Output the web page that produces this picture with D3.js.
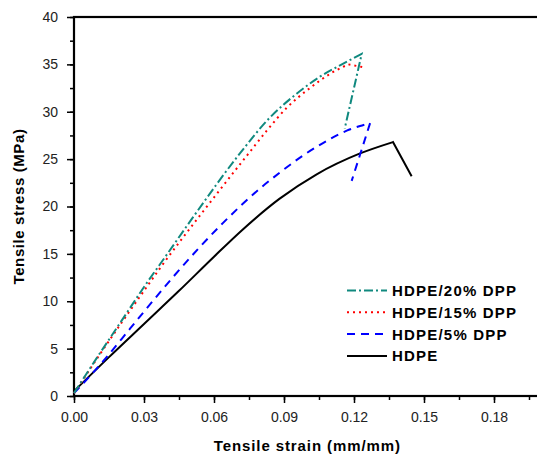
<!DOCTYPE html>
<html>
<head>
<meta charset="utf-8">
<script src="https://cdn.jsdelivr.net/npm/d3@7"></script>
<style>
  body { margin: 0; background: #fff; }
  text { font-family: Arial, "Liberation Sans", sans-serif; }
</style>
</head>
<body>
<svg id="chart" width="537" height="457"></svg>
<script>
const left_margin = 74;
const top_y = 17;
const bottom_y = 396;
const x_per_003 = 70;

const strain20 = [0, 0.01, 0.02, 0.03, 0.04, 0.0511, 0.0711, 0.084, 0.0954, 0.1054, 0.114, 0.1233, 0.116];
const stress20 = [0.3, 4.1, 7.8, 11.5, 15.0, 18.9, 25.6, 29.4, 31.9, 33.7, 34.9, 36.1, 28.2];

const strain15 = [0, 0.01, 0.02, 0.03, 0.0369, 0.0554, 0.0758, 0.0826, 0.0911, 0.1011, 0.1111, 0.1176, 0.124];
const stress15 = [0.3, 4.0, 7.6, 11.1, 13.5, 19.5, 25.9, 28.0, 30.4, 32.5, 34.2, 35.0, 34.7];

const strain5 = [0, 0.0126, 0.024, 0.03, 0.0419, 0.064, 0.0797, 0.0883, 0.0983, 0.1067, 0.1169, 0.1226, 0.1269, 0.119];
const stress5 = [0.3, 3.7, 7.1, 8.9, 12.4, 18.3, 21.9, 23.6, 25.4, 26.7, 28.0, 28.5, 28.8, 22.7];

const strain0 = [0, 0.015, 0.03, 0.045, 0.06, 0.072, 0.088, 0.104, 0.1226, 0.1367, 0.1447];
const stress0 = [0.5, 4.1, 7.6, 11.1, 14.7, 17.5, 20.8, 23.4, 25.6, 26.8, 23.2];

const xTicks = [0, 0.03, 0.06, 0.09, 0.12, 0.15, 0.18];
const yTicks = [0, 5, 10, 15, 20, 25, 30, 35, 40];

const seriesNames = ["HDPE/20% DPP", "HDPE/15% DPP", "HDPE/5% DPP", "HDPE"];
const seriesColors = ["#10897f", "#ff0000", "#0000ff", "#000000"];
const seriesDash = ["9,3,2,3", "2,4", "8,6", null];

var svg = d3.select("#chart");

var x = d3.scaleLinear()
    .domain([0, 0.2])
    .range([left_margin, left_margin + 0.2 / 0.03 * x_per_003]);
var y = d3.scaleLinear()
    .domain([0, 40])
    .range([bottom_y, top_y]);

/* minor + major ticks, drawn as separate axes */
var xMinor = d3.range(0, 0.2, 0.015);
var yMinor = d3.range(0, 40.1, 2.5);

svg.append("g")
    .attr("transform", "translate(0," + bottom_y + ")")
    .call(d3.axisBottom(x).tickValues(xMinor).tickSize(4).tickFormat(""))
    .call(g => g.select(".domain").remove());
svg.append("g")
    .attr("transform", "translate(0," + bottom_y + ")")
    .call(d3.axisBottom(x).tickValues(xTicks).tickSize(7).tickPadding(9).tickFormat(d3.format(".2f")))
    .call(g => g.select(".domain").remove())
    .selectAll("text").attr("font-size", 14).attr("fill", "#222");

svg.append("g")
    .attr("transform", "translate(" + left_margin + ",0)")
    .call(d3.axisLeft(y).tickValues(yMinor).tickSize(4).tickFormat(""))
    .call(g => g.select(".domain").remove());
svg.append("g")
    .attr("transform", "translate(" + left_margin + ",0)")
    .call(d3.axisLeft(y).tickValues(yTicks).tickSize(7).tickPadding(9))
    .call(g => g.select(".domain").remove())
    .selectAll("text").attr("font-size", 14).attr("fill", "#222");

svg.selectAll(".tick line").attr("stroke-width", 1.5);

// frame
svg.append("rect")
    .attr("x", x(0))
    .attr("y", y(40))
    .attr("width", x(0.2) - x(0))
    .attr("height", y(0) - y(40))
    .attr("fill", "none")
    .attr("stroke", "#000")
    .attr("stroke-width", 2.2);

// smooth rising part, straight drop after the break point
var smooth = d3.line()
    .x(d => x(d[0]))
    .y(d => y(d[1]))
    .curve(d3.curveMonotoneX);

function curvePath(pts) {
    var rise = pts.slice(0, -1);
    var last = pts[pts.length - 1];
    return smooth(rise) + "L" + x(last[0]) + "," + y(last[1]);
}

var allSeries = [
    d3.zip(strain20, stress20),
    d3.zip(strain15, stress15),
    d3.zip(strain5, stress5),
    d3.zip(strain0, stress0)
];

// draw HDPE first so the others sit on top
for (var i = allSeries.length - 1; i >= 0; i--) {
    svg.append("path")
        .attr("d", curvePath(allSeries[i]))
        .attr("fill", "none")
        .attr("stroke", seriesColors[i])
        .attr("stroke-width", 2)
        .attr("stroke-dasharray", seriesDash[i]);
}

// legend
var legend = svg.append("g");
seriesNames.forEach((name, i) => {
    var ly = 290.5 + i * 21.8;
    legend.append("line")
        .attr("x1", 347).attr("x2", 387)
        .attr("y1", ly).attr("y2", ly)
        .attr("stroke", seriesColors[i])
        .attr("stroke-width", 2)
        .attr("stroke-dasharray", seriesDash[i]);
    legend.append("text")
        .attr("x", 392)
        .attr("y", ly)
        .attr("dy", "0.36em")
        .attr("font-size", 15)
        .attr("font-weight", "bold")
        .attr("letter-spacing", 1.2)
        .text(name);
});

// axis titles
svg.append("text")
    .attr("x", (x(0) + x(0.2)) / 2)
    .attr("y", 446)
    .attr("dy", "0.36em")
    .attr("text-anchor", "middle")
    .attr("font-size", 15)
    .attr("font-weight", "bold")
    .attr("letter-spacing", 0.9)
    .text("Tensile strain (mm/mm)");

svg.append("text")
    .attr("transform", "translate(19," + (top_y + bottom_y) / 2 + ") rotate(-90)")
    .attr("dy", "0.36em")
    .attr("text-anchor", "middle")
    .attr("font-size", 15)
    .attr("font-weight", "bold")
    .attr("letter-spacing", 0.6)
    .text("Tensile stress (MPa)");
</script>
</body>
</html>
